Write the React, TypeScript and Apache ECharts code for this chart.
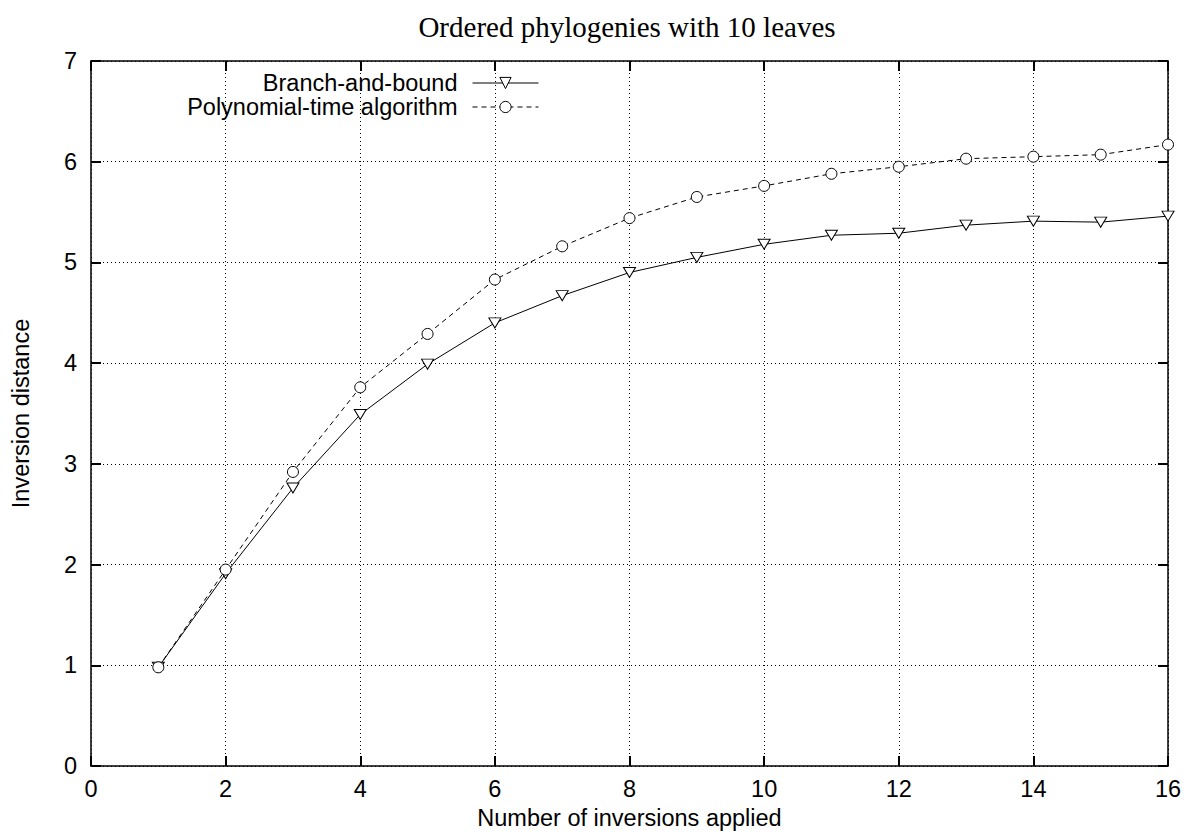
import React, { useEffect, useRef } from "react";
import * as echarts from "echarts";

const titleText = "Ordered phylogenies with 10 leaves";
const xName = "Number of inversions applied";
const yName = "Inversion distance";
const seriesNames = ["Branch-and-bound", "Polynomial-time algorithm"];
const inversions = [1, 2, 3, 4, 5, 6, 7, 8, 9, 10, 11, 12, 13, 14, 15, 16];
const branchAndBound = [0.98, 1.91, 2.76, 3.49, 3.99, 4.40, 4.67, 4.90, 5.05, 5.18, 5.27, 5.29, 5.37, 5.41, 5.40, 5.46];
const polynomial = [0.98, 1.95, 2.92, 3.76, 4.29, 4.83, 5.16, 5.44, 5.65, 5.76, 5.88, 5.95, 6.03, 6.05, 6.07, 6.17];

const SANS = "'Liberation Sans', Arial, sans-serif";
const SERIF = "'Liberation Serif', 'Times New Roman', serif";
const FS = 23.5;

export default function App() {
  const ref = useRef<HTMLDivElement>(null);
  useEffect(() => {
    if (!ref.current) return;
    const chart = echarts.init(ref.current, null, { renderer: "svg" });
    const axisLine = { show: true, onZero: false, lineStyle: { color: "#000", width: 1.5 } };
    const tick = { show: true, inside: true, length: 10, lineStyle: { color: "#000", width: 2 } };
    const grid = { show: true, lineStyle: { color: "#000", width: 1, type: [1, 3] } };
    const downTri = "path://M0,0 L10,0 L5,9 Z";
    const legendBase = {
      right: 645,
      align: "right",
      itemWidth: 66,
      itemHeight: 14,
      textStyle: { fontFamily: SANS, fontSize: FS, color: "#000", padding: [0, 10, 0, 0] },
      itemStyle: { color: "#fff", borderColor: "#000", borderWidth: 1 },
    };
    chart.setOption({
      animation: false,
      backgroundColor: "#fff",
      title: {
        text: titleText,
        left: 622,
        textAlign: "center",
        top: 7,
        textStyle: { fontFamily: SERIF, fontSize: 29, fontWeight: "normal", color: "#000" },
      },
      legend: [
        {
          ...legendBase,
          data: [seriesNames[0]],
          top: 66,
          lineStyle: { color: "#000", width: 1, type: "solid" },
        },
        {
          ...legendBase,
          data: [seriesNames[1]],
          top: 90,
          lineStyle: { color: "#000", width: 1, type: [5, 4] },
        },
      ],
      grid: { left: 91, top: 61, right: 21, bottom: 74, containLabel: false },
      xAxis: [
        {
          type: "value",
          min: 0,
          max: 16,
          interval: 2,
          name: xName,
          nameLocation: "middle",
          nameGap: 36,
          nameTextStyle: { fontFamily: SANS, fontSize: FS, color: "#000" },
          axisLine,
          axisTick: tick,
          splitLine: grid,
          axisLabel: { fontFamily: SANS, fontSize: FS, color: "#000", margin: 11 },
        },
        {
          type: "value",
          position: "top",
          min: 0,
          max: 16,
          interval: 2,
          axisLine,
          axisTick: tick,
          splitLine: { show: false },
          axisLabel: { show: false },
        },
      ],
      yAxis: [
        {
          type: "value",
          min: 0,
          max: 7,
          interval: 1,
          name: yName,
          nameLocation: "middle",
          nameGap: 58,
          nameRotate: 90,
          nameTextStyle: { fontFamily: SANS, fontSize: FS, color: "#000" },
          axisLine,
          axisTick: tick,
          splitLine: grid,
          axisLabel: { fontFamily: SANS, fontSize: FS, color: "#000", margin: 14 },
        },
        {
          type: "value",
          position: "right",
          min: 0,
          max: 7,
          interval: 1,
          axisLine,
          axisTick: tick,
          splitLine: { show: false },
          axisLabel: { show: false },
        },
      ],
      series: [
        {
          name: seriesNames[0],
          type: "line",
          clip: false,
          data: inversions.map((x, i) => [x, branchAndBound[i]]),
          symbol: downTri,
          symbolSize: [12, 10],
          lineStyle: { color: "#000", width: 1, type: "solid" },
          itemStyle: { color: "#fff", borderColor: "#000", borderWidth: 1 },
          z: 3,
        },
        {
          name: seriesNames[1],
          type: "line",
          clip: false,
          data: inversions.map((x, i) => [x, polynomial[i]]),
          symbol: "circle",
          symbolSize: 11,
          lineStyle: { color: "#000", width: 1, type: [5, 4] },
          itemStyle: { color: "#fff", borderColor: "#000", borderWidth: 1 },
          z: 3,
        },
      ],
    });
    return () => chart.dispose();
  }, []);
  return (
    <div
      ref={ref}
      style={{ position: "absolute", left: 0, top: 0, width: 1189, height: 840 }}
    />
  );
}
